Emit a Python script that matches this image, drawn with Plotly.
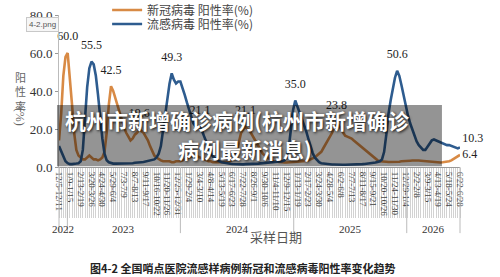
import plotly.graph_objects as go
import pandas as pd

# ---------------- data ----------------
start_week = "2022-12-05"

covid = [14, 28, 48, 58, 60, 48, 33, 18, 9, 6,
         5, 4, 4, 5, 6, 5, 4, 4, 3.5, 4,
         5, 8, 18, 33, 42.5, 40, 36, 33, 29, 25,
         21, 18, 16, 14, 15, 17, 18, 19.6, 19, 18,
         16, 14, 11, 8, 6, 5, 4, 3.5, 3, 3,
         3, 3, 2.5, 2.5, 3, 3, 3, 3.5, 4, 4.5,
         5, 5.5, 6, 6, 5.5, 5, 4.5, 4, 3.5, 3,
         3, 2.5, 2.5, 2.5, 2.5, 2.5, 2.5, 2.5, 3, 3,
         4, 5, 8, 13, 18, 20, 21.1, 20, 19, 17,
         15, 13, 11, 9, 7, 6, 5, 4, 3.5, 3,
         2.8, 2.6, 2.5, 2.5, 2.4, 2.4, 2.5, 2.5, 2.5, 2.5,
         2.6, 2.8, 3, 3, 3.2, 3.5, 4, 4.5, 5, 6,
         7, 8, 10, 12, 14, 16, 18, 21, 23.8, 22,
         20, 18, 16.5, 16, 15.5, 15, 14, 13, 12, 11,
         10, 9, 8, 7, 6, 5, 4, 3.5, 3, 3,
         2.8, 2.8, 2.6, 2.6, 2.5, 2.5, 2.6, 2.8, 3, 3,
         3.2, 3.3, 3.3, 3.4, 3.5, 3.5, 3.4, 3.3, 3.2, 3,
         2.8, 2.6, 2.5, 2.5, 2.4, 2.4, 2.4, 2.5, 2.6, 2.8,
         3, 3.5, 4.2, 5, 5.8, 6.4]

flu = [11, 8, 5, 3, 2, 1.5, 1.5, 1.5, 1.8, 2,
       3, 9, 25, 42, 52, 55.5, 54, 48, 38, 26,
       15, 7, 3.5, 2.5, 2, 1.8, 1.8, 1.8, 1.7, 1.7,
       1.7, 1.8, 1.8, 2, 2, 2.2, 2.2, 2.4, 2.5, 2.6,
       2.8, 3, 3.2, 3.5, 4, 5, 7, 11, 20, 28,
       36, 44, 49.3, 46, 44, 45, 45, 42, 38, 34,
       30, 26, 23, 21.5, 21, 21.1, 19, 16, 13, 10,
       7.5, 5.5, 4.5, 3.5, 3, 2.5, 2.2, 2, 1.8, 1.7,
       1.6, 1.5, 1.5, 1.4, 1.4, 1.4, 1.5, 1.5, 1.5, 1.6,
       1.6, 1.7, 1.8, 1.9, 2, 2, 2.1, 2.2, 2.3, 2.4,
       2.5, 2.6, 2.8, 3, 3.5, 5, 10, 20, 30, 35,
       32, 29, 26, 23, 19, 15, 11, 7.5, 5, 3.5,
       2.5, 2, 1.8, 1.6, 1.5, 1.4, 1.3, 1.3, 1.2, 1.2,
       1.2, 1.2, 1.2, 1.2, 1.3, 1.3, 1.3, 1.4, 1.4, 1.5,
       1.5, 1.6, 1.7, 1.8, 2, 2.2, 2.4, 2.7, 3, 4,
       8, 17, 28, 35, 42, 47, 50.6, 48, 43, 37,
       32, 27, 23, 19.5, 16, 13.5, 11.5, 10, 9, 9,
       10.5, 12.5, 14, 14.5, 14, 13.5, 13, 12.5, 12, 11.5,
       11.5, 11, 10.5, 10, 9.8, 10.3]

week_labels = ["12/5-12/11", "1/9-1/15", "2/13-2/19", "3/20-3/26", "4/24-4/30",
               "5/29-6/4", "7/3-7/9", "8/7-8/13", "9/11-9/17", "10/16-10/22",
               "11/20-11/26", "12/25-12/31", "1/29-2/4", "3/4-3/10", "4/8-4/14",
               "5/13-5/19", "6/17-6/23", "7/22-7/28", "8/26-9/1", "9/30-10/6",
               "11/4-11/10", "12/9-12/15", "1/13-1/19", "2/17-2/23", "3/24-3/30",
               "4/28-5/4", "6/2-6/8", "7/7-7/13", "8/11-8/17", "9/15-9/21",
               "10/20-10/26", "11/24-11/30", "12/29-1/4", "2/2-2/8", "3/9-3/15",
               "4/13-4/19", "5/18-5/24", "6/22-6/28"]

years = ["2022", "2023", "2024", "2025", "2026"]
year_starts = ["2023-01-01", "2024-01-01", "2025-01-01", "2026-01-01"]

covid_peaks = [4, 24, 37, 86, 128]
flu_peaks = [15, 52, 65, 109, 156]

series_names = ["新冠病毒 阳性率(%)", "流感病毒 阳性率(%)"]
title_lines = ["杭州市新增确诊病例(杭州市新增确诊", "病例最新消息)"]
caption = "图4-2 全国哨点医院流感样病例新冠和流感病毒阳性率变化趋势"
x_title = "采样日期"

# ---------------- styling ----------------
ORANGE = "#D88A45"
BLUE = "#2E5C8F"
SERIF = "Liberation Serif, Times New Roman, serif"
CJK = "Noto Sans CJK SC, sans-serif"
LINE_GREY = "#d2d2d2"

dates = pd.date_range(start_week, periods=len(covid), freq="7D")

fig = go.Figure()
fig.add_trace(go.Scatter(x=dates, y=covid, mode="lines", name=series_names[0],
                         line=dict(color=ORANGE, width=2.6), legend="legend",
                         hoverinfo="skip"))
fig.add_trace(go.Scatter(x=dates, y=flu, mode="lines", name=series_names[1],
                         line=dict(color=BLUE, width=2.6), legend="legend2",
                         hoverinfo="skip"))


def add_peak_labels(values, idx):
    fig.add_trace(go.Scatter(
        x=[dates[i] for i in idx], y=[values[i] for i in idx],
        mode="markers+text", text=[f"{values[i]:.1f}" for i in idx],
        textposition="top center", marker=dict(size=14, opacity=0),
        textfont=dict(family=SERIF, size=12, color="#222"),
        showlegend=False, hoverinfo="skip", cliponaxis=False))


add_peak_labels(covid, covid_peaks)
add_peak_labels(flu, flu_peaks)

# end-of-series labels
fig.add_trace(go.Scatter(
    x=[dates[-1], dates[-1]], y=[flu[-1], covid[-1]],
    mode="markers+text", text=[f"{flu[-1]:.1f}", f"{covid[-1]:.1f}"],
    textposition=["top right", "middle right"], marker=dict(size=2, opacity=0),
    textfont=dict(family=SERIF, size=12, color="#222"),
    showlegend=False, hoverinfo="skip", cliponaxis=False))

fig.update_layout(
    template="none",
    width=500, height=277,
    margin=dict(l=59, r=40, t=15, b=110, autoexpand=False),
    paper_bgcolor="white", plot_bgcolor="white",
    font=dict(family=SERIF),
    legend=dict(x=0.12, y=1 - 10 / 277, xref="paper", yref="container",
                xanchor="left", yanchor="middle",
                bgcolor="rgba(0,0,0,0)", font=dict(family=CJK, size=12, color="#444")),
    legend2=dict(x=0.12, y=1 - 24 / 277, xref="paper", yref="container",
                 xanchor="left", yanchor="middle",
                 bgcolor="rgba(0,0,0,0)", font=dict(family=CJK, size=12, color="#444")),
)

fig.update_xaxes(
    range=[dates[0], dates[-1]], automargin=False,
    showline=True, linecolor="#999", linewidth=1,
    ticks="outside", ticklen=50, tickcolor=LINE_GREY, tickwidth=1,
    tickmode="array", tickvals=list(dates[::5]), ticktext=week_labels,
    tickangle=90, tickfont=dict(family=SERIF, size=9, color="#444"),
    ticklabelstandoff=-48,
    minor=dict(ticks="outside", ticklen=50, tickcolor=LINE_GREY, tickwidth=1,
               tickmode="array", tickvals=list(dates)),
    showgrid=False, zeroline=False,
)
fig.update_yaxes(
    range=[0, 80], automargin=False,
    tickmode="array", tickvals=[0, 20, 40, 60, 80], tickformat=".1f",
    showline=True, linecolor="#bbb", linewidth=1,
    ticks="outside", ticklen=3, tickcolor="#999",
    tickfont=dict(family=SERIF, size=13, color="#333"),
    showgrid=False, zeroline=False,
)

# year separators below the axis
sep_y = -0.435
for ys in year_starts:
    fig.add_shape(type="line", xref="x", yref="paper", x0=ys, x1=ys, y0=0, y1=sep_y,
                  line=dict(color="#bbb", width=1))
for xp in (0, 1):
    fig.add_shape(type="line", xref="paper", yref="paper", x0=xp, x1=xp, y0=0, y1=sep_y,
                  line=dict(color="#bbb", width=1))

edges = [dates[0]] + [pd.Timestamp(s) for s in year_starts] + [dates[-1]]
for yr, a, b in zip(years, edges[:-1], edges[1:]):
    fig.add_annotation(x=a + (b - a) / 2, xref="x", y=-0.41, yref="paper", text=yr,
                       xanchor="center", yanchor="middle",
                       showarrow=False, font=dict(family=SERIF, size=11, color="#333"))

fig.add_annotation(x=0.54, xref="paper", y=-0.46, yref="paper", text=x_title,
                   xanchor="center", yanchor="middle",
                   showarrow=False, font=dict(family=CJK, size=13, color="#555"))
fig.add_annotation(x=0.46, xref="paper", y=-0.665, yref="paper", text=caption,
                   xanchor="center", yanchor="middle",
                   showarrow=False, font=dict(family=CJK, size=11, color="#222", weight="bold"))

# y axis title (vertical)
fig.add_annotation(x=-0.097, xref="paper", y=0.5, yref="paper", text="阳<br>性<br>率",
                   xanchor="center", yanchor="middle",
                   showarrow=False, font=dict(family=CJK, size=11, color="#666"))
fig.add_annotation(x=-0.097, xref="paper", y=0.33, yref="paper", text="(%)", textangle=90,
                   xanchor="center", yanchor="middle",
                   showarrow=False, font=dict(family=SERIF, size=12, color="#666"))

# file-name tag
fig.add_annotation(x=-0.04, xref="paper", y=0.94, yref="paper", text="4-2.png",
                   xanchor="center", yanchor="middle",
                   showarrow=False, bgcolor="#f6f6f6", bordercolor="#c8c8c8", borderwidth=1,
                   borderpad=2, font=dict(family="Liberation Sans, Arial", size=8, color="#555"))

# dark overlay banner with title
fig.add_shape(type="rect", xref="paper", yref="paper", x0=-0.005, x1=0.955, y0=0.005, y1=0.408,
              fillcolor="rgba(0,0,0,0.42)", line=dict(width=0), layer="above")
fig.add_annotation(x=0.445, xref="paper", y=0.31, yref="paper", text=title_lines[0],
                   xanchor="center", yanchor="middle", showarrow=False,
                   font=dict(family=CJK, size=21, color="white", weight="bold",
                             shadow="1px 1px 3px rgba(0,0,0,0.9)"))
fig.add_annotation(x=0.465, xref="paper", y=0.12, yref="paper", text=title_lines[1],
                   xanchor="center", yanchor="middle", showarrow=False,
                   font=dict(family=CJK, size=21, color="white", weight="bold",
                             shadow="1px 1px 3px rgba(0,0,0,0.9)"))

fig.write_html("out.html")
